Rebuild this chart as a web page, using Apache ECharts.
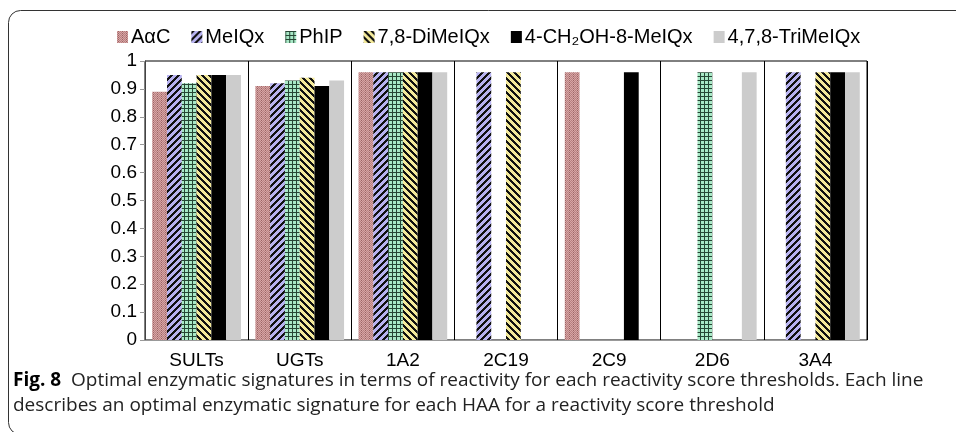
<!DOCTYPE html>
<html>
<head>
<meta charset="utf-8">
<script src="https://cdn.jsdelivr.net/npm/echarts@6/dist/echarts.min.js"></script>
<style>
html, body { margin: 0; padding: 0; background: #fff; }
#chart { width: 956px; height: 432px; }
</style>
</head>
<body>
<div id="chart"></div>
<script>
/* data */
var categories = ['SULTs', 'UGTs', '1A2', '2C19', '2C9', '2D6', '3A4'];
var seriesNames = ['AαC', 'MeIQx', 'PhIP', '7,8-DiMeIQx', '4-CH₂OH-8-MeIQx', '4,7,8-TriMeIQx'];
var aacValues      = [0.89, 0.91, 0.96, 0,    0.96, 0,    0];
var meiqxValues    = [0.95, 0.92, 0.96, 0.96, 0,    0,    0.96];
var phipValues     = [0.92, 0.93, 0.96, 0,    0,    0.96, 0];
var dimeiqxValues  = [0.95, 0.94, 0.96, 0.96, 0,    0,    0.96];
var ch2ohValues    = [0.95, 0.91, 0.96, 0,    0.96, 0,    0.96];
var trimeiqxValues = [0.95, 0.93, 0.96, 0,    0,    0.96, 0.96];
var captionBold = 'Fig. 8';
var captionLine1 = 'Optimal enzymatic signatures in terms of reactivity for each reactivity score thresholds. Each line';
var captionLine2 = 'describes an optimal enzymatic signature for each HAA for a reactivity score threshold';

var font = '"Liberation Sans", Arial, sans-serif';

/* small pixel tiles used as bar fills */
function tile(size, paint) {
    var c = document.createElement('canvas');
    c.width = size; c.height = size;
    var ctx = c.getContext('2d');
    for (var y = 0; y < size; y++) {
        for (var x = 0; x < size; x++) {
            ctx.fillStyle = paint(x, y);
            ctx.fillRect(x, y, 1, 1);
        }
    }
    return { image: c, repeat: 'repeat' };
}

var pinkFill = tile(4, function (x, y) {
    if ((x + y) % 2 == 0) return '#d6a5a5';
    return (x % 4 == 1 && y % 2 == 0) ? '#9c6464' : '#b98080';
});
var lavenderFill = tile(7, function (x, y) {
    return (x + y) % 7 < 3 ? '#111' : '#b7b2f0';
});
var gridFill = tile(4, function (x, y) {
    return (x % 4 == 0 || y % 4 == 0) ? '#264634' : '#a8e8c6';
});
var yellowFill = tile(7, function (x, y) {
    return ((x - y) % 7 + 7) % 7 < 3 ? '#111' : '#f3e99a';
});

var fills = [pinkFill, lavenderFill, gridFill, yellowFill, '#000000', '#cccccc'];
var values = [aacValues, meiqxValues, phipValues, dimeiqxValues, ch2ohValues, trimeiqxValues];

var series = [];
for (var i = 0; i < seriesNames.length; i++) {
    series.push({
        name: seriesNames[i],
        type: 'bar',
        barGap: '0%',
        barCategoryGap: '14%',
        itemStyle: { color: fills[i] },
        data: values[i]
    });
}

var chart = echarts.init(document.getElementById('chart'));
var option = {
    animation: false,
    backgroundColor: '#fff',
    legend: {
        top: 22,
        left: 112,
        itemWidth: 11,
        itemHeight: 12,
        itemGap: 21,
        icon: 'rect',
        textStyle: { fontFamily: font, fontSize: 20, color: '#000', padding: [0, 0, 0, -2] },
        data: seriesNames
    },
    grid: {
        left: 145, right: 89, top: 61, bottom: 92,
        show: true, borderColor: '#000', borderWidth: 1
    },
    xAxis: {
        type: 'category',
        data: categories,
        axisLine: { lineStyle: { color: '#999' } },
        axisTick: { length: 4, lineStyle: { color: '#999' } },
        axisLabel: { fontFamily: font, fontSize: 19, color: '#000', margin: 11 },
        splitLine: { show: true, interval: 0, lineStyle: { color: '#000', width: 1 } }
    },
    yAxis: {
        type: 'value',
        min: 0, max: 1, interval: 0.1,
        axisLine: { show: true, lineStyle: { color: '#444' } },
        axisTick: { show: true, length: 5, lineStyle: { color: '#999' } },
        axisLabel: { fontFamily: font, fontSize: 19, color: '#000', margin: 8 },
        splitLine: { show: false }
    },
    graphic: [
        {
            type: 'rect',
            shape: { x: 8.5, y: 10.5, width: 1000, height: 424, r: 12 },
            style: { fill: 'none', stroke: '#333', lineWidth: 1 },
            silent: true
        },
        {
            type: 'text',
            left: 13, top: 368,
            style: {
                text: '{b|' + captionBold + '}  ' + captionLine1 + '\n' + captionLine2,
                font: '19px "Open Sans", sans-serif',
                fill: '#222',
                lineHeight: 25,
                rich: {
                    b: { fontWeight: 'bold', fontSize: 19, fontFamily: '"Open Sans", sans-serif', fill: '#000', lineHeight: 25 }
                }
            }
        }
    ],
    series: series
};
chart.setOption(option);
</script>
</body>
</html>
